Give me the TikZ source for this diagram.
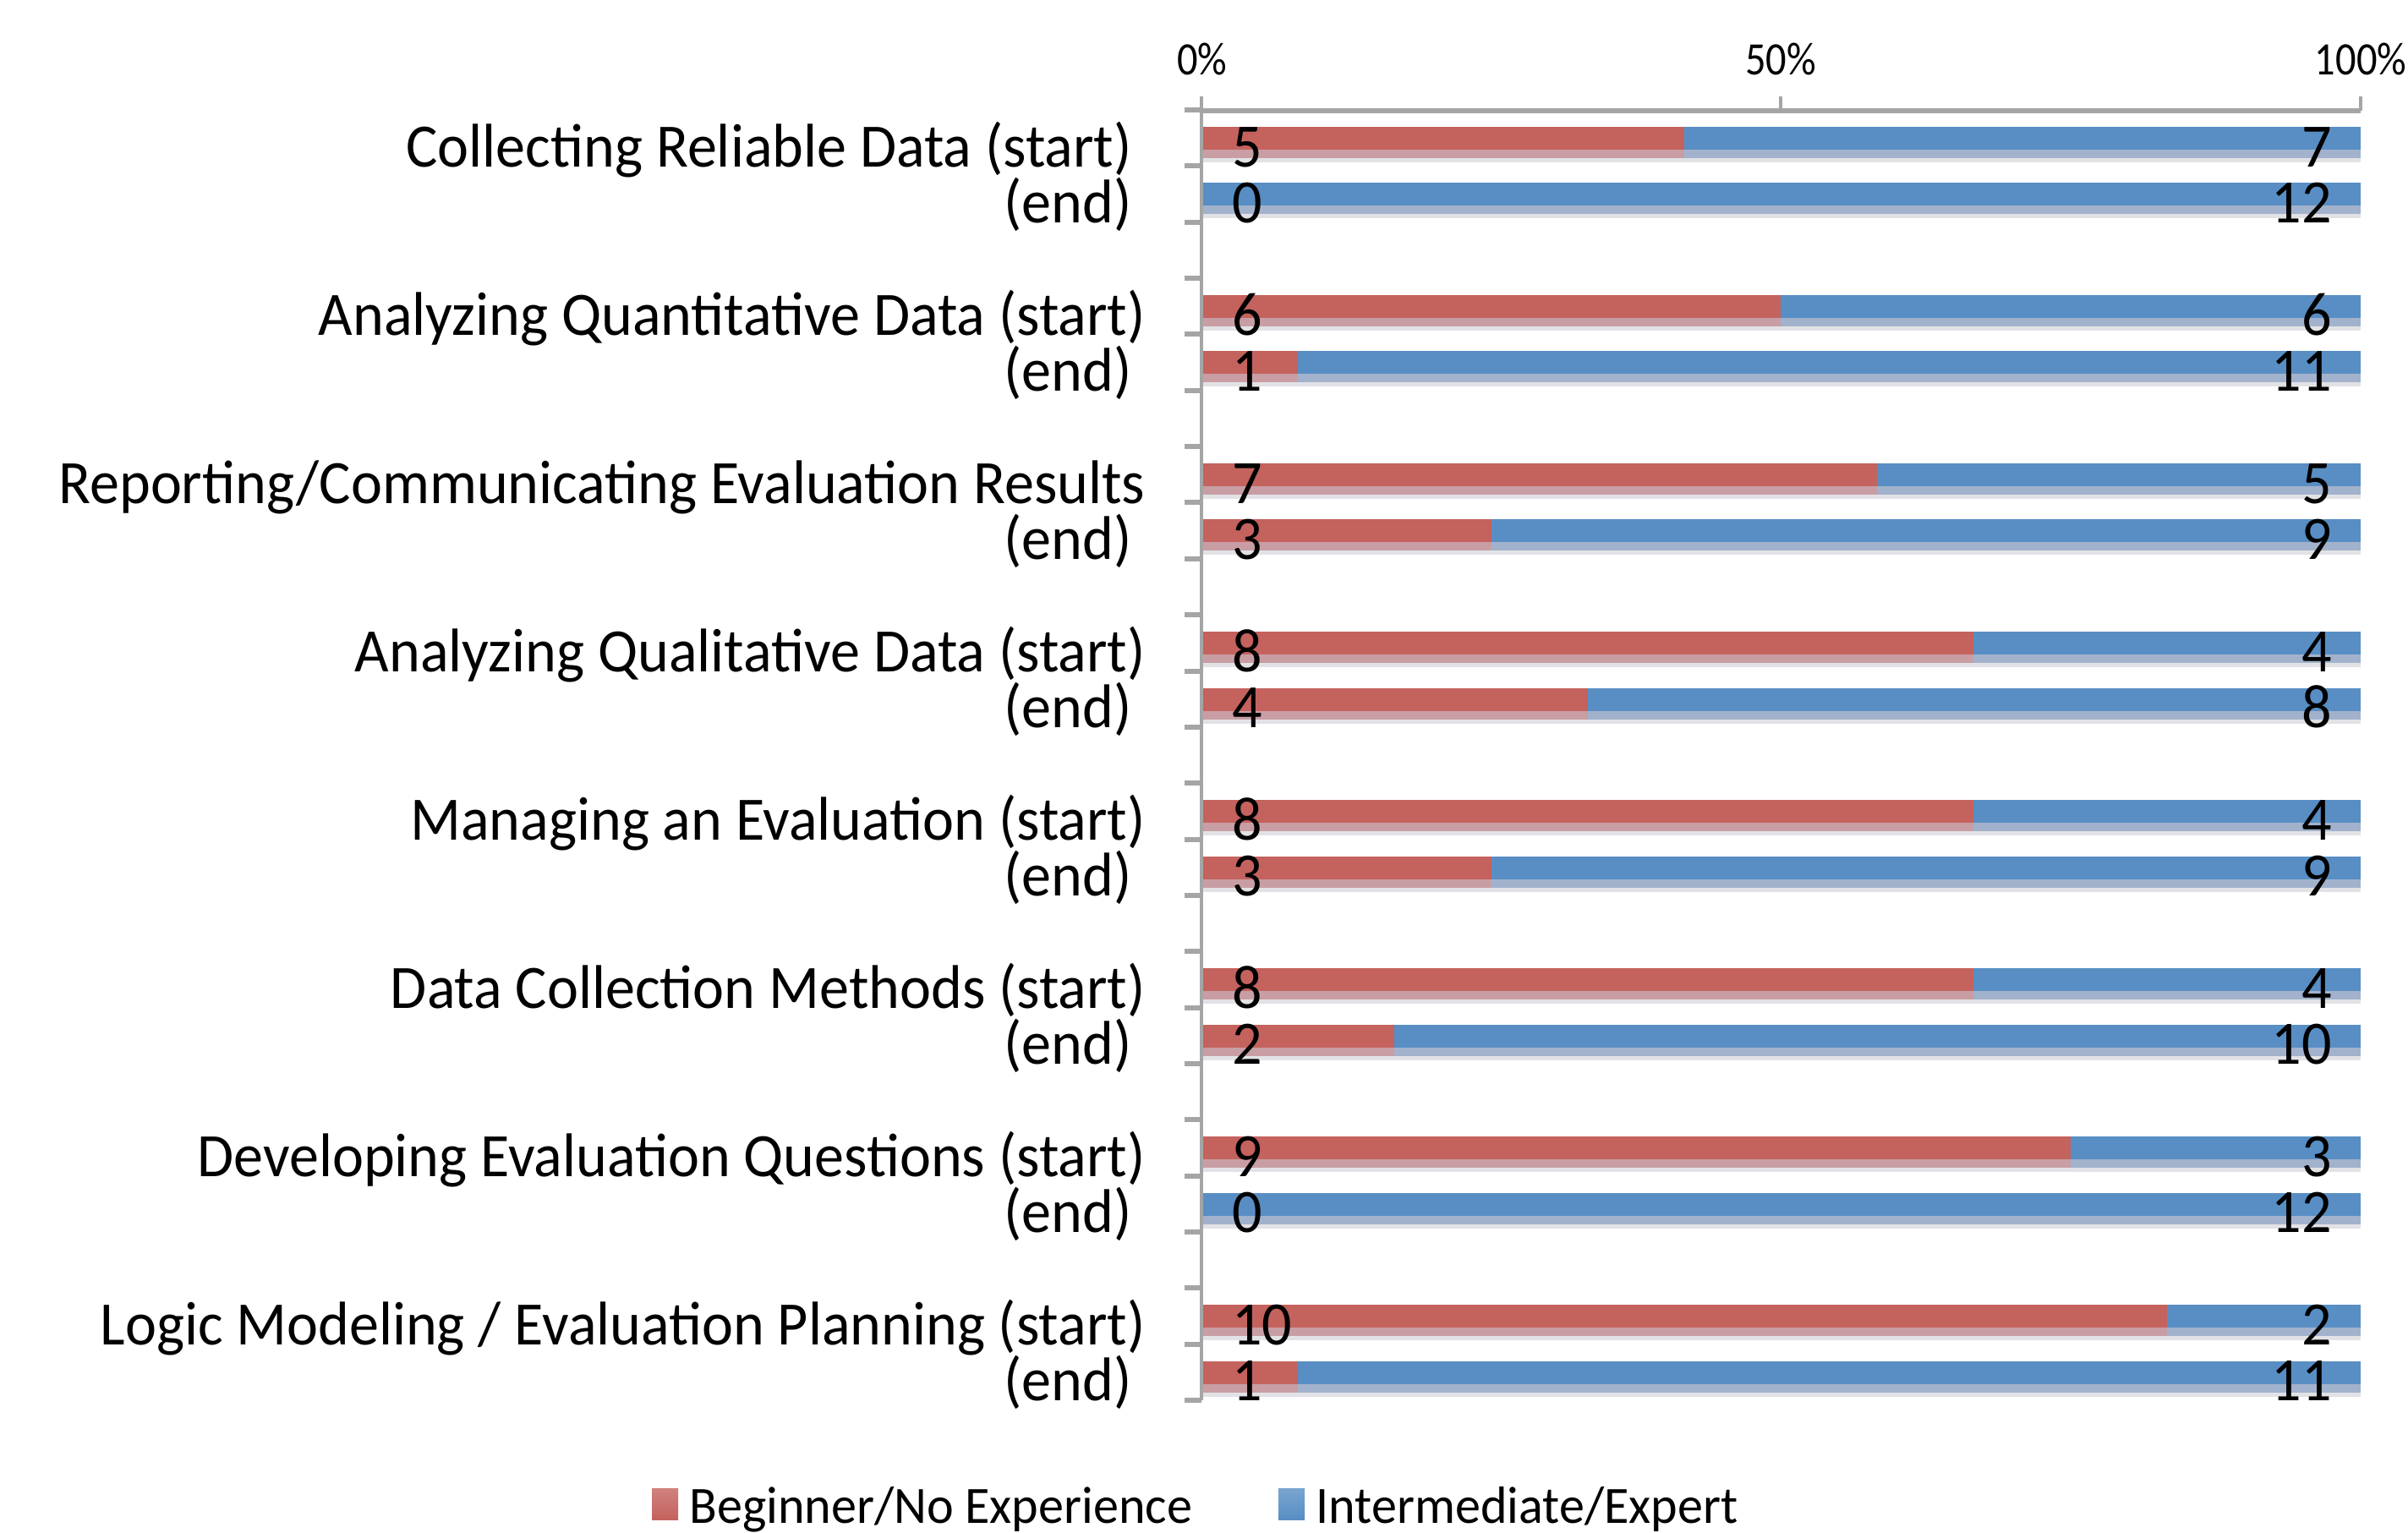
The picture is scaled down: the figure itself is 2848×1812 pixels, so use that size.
\documentclass[tikz,border=0pt]{standalone}
\usepackage{fontspec}
\setmainfont{Carlito}
\newfontfamily\labfont{Carlito}[FakeStretch=0.96]
\newfontfamily\tickfont{Carlito}[FakeStretch=0.88]
\newfontfamily\legfont{Carlito}[FakeStretch=0.97]
\definecolor{begred}{RGB}{196,98,94}
\definecolor{intblue}{RGB}{88,142,196}
\definecolor{redlow}{RGB}{200,158,164}
\definecolor{bluelow}{RGB}{162,178,204}
\definecolor{striplow}{RGB}{226,226,230}
\definecolor{axisgray}{RGB}{165,165,165}
\tikzset{
  catlabel/.style={anchor=base east, inner sep=0pt, font=\labfont\fontsize{36.5}{40}\selectfont},
  vallabel/.style={inner sep=0pt, font=\labfont\fontsize{36.5}{40}\selectfont},
  ticklabel/.style={anchor=base, inner sep=0pt, font=\tickfont\fontsize{27.5}{30}\selectfont},
  leglabel/.style={anchor=base west, inner sep=0pt, font=\legfont\fontsize{31}{34}\selectfont},
  axisline/.style={draw=axisgray, line width=2pt},
  gridline/.style={draw=axisgray, line width=3pt},
}
\begin{document}
\begin{tikzpicture}[x=0.5pt,y=-0.5pt]
\useasboundingbox[fill=white] (0,0) rectangle (2848,1812);
% bars
\foreach \k/\r in {0/5,1/0,3/6,4/1,6/7,7/3,9/8,10/4,12/8,13/3,15/8,16/2,18/9,19/0,21/10,22/1}{
  \pgfmathsetmacro\yt{150+66.35*\k}
  \pgfmathsetmacro\ym{\yt+27}
  \pgfmathsetmacro\yl{\yt+37}
  \pgfmathsetmacro\yb{\yt+42}
  \pgfmathsetmacro\xr{1421+1370*\r/12}
  \pgfmathsetmacro\yc{197+66.35*\k}
  \pgfmathtruncatemacro\bv{12-\r}
  \fill[striplow] (1421,\yl) rectangle (2792,\yb);
  \fill[begred] (1421,\yt) rectangle (\xr,\ym);
  \fill[redlow] (1421,\ym) rectangle (\xr,\yl);
  \fill[intblue] (\xr,\yt) rectangle (2792,\ym);
  \fill[bluelow] (\xr,\ym) rectangle (2792,\yl);
  \node[vallabel, anchor=base west] (s\k) at (1457,\yc) {\r};
  \node[vallabel, anchor=base east] (e\k) at (2758,\yc) {\bv};
}
% axes
\draw[gridline] (1421,131) -- (2792,131);
\foreach \x in {1421,2106,2792}{\draw[axisline] (\x,131) -- (\x,114);}
\draw[axisline] (1421,114) -- (1421,1656);
\foreach \k in {0,...,23}{
  \pgfmathsetmacro\yy{130+66.35*\k}
  \draw[gridline] (1401,\yy) -- (1421,\yy);
}
% tick labels
\node[ticklabel] (t0) at (1422,88) {0\%};
\node[ticklabel] (t50) at (2106,88) {50\%};
\node[ticklabel] (t100) at (2792,88) {100\%};
% category labels
\node[catlabel] (c0) at (1339,197) {Collecting Reliable Data (start)};
\node[catlabel] (c1) at (1339,263.35) {(end)};
\node[catlabel] (c3) at (1355,396.05) {Analyzing Quantitative Data (start)};
\node[catlabel] (c4) at (1339,462.4) {(end)};
\node[catlabel] (c6) at (1355,595.1) {Reporting/Communicating Evaluation Results};
\node[catlabel] (c7) at (1339,661.45) {(end)};
\node[catlabel] (c9) at (1355,794.15) {Analyzing Qualitative Data (start)};
\node[catlabel] (c10) at (1339,860.5) {(end)};
\node[catlabel] (c12) at (1355,993.2) {Managing an Evaluation (start)};
\node[catlabel] (c13) at (1339,1059.55) {(end)};
\node[catlabel] (c15) at (1355,1192.25) {Data Collection Methods (start)};
\node[catlabel] (c16) at (1339,1258.6) {(end)};
\node[catlabel] (c18) at (1355,1391.3) {Developing Evaluation Questions (start)};
\node[catlabel] (c19) at (1339,1457.65) {(end)};
\node[catlabel] (c21) at (1355,1590.35) {Logic Modeling / Evaluation Planning (start)};
\node[catlabel] (c22) at (1339,1656.7) {(end)};
% legend
\fill[top color=begred!80!white, bottom color=begred] (771,1760) rectangle (802,1797);
\node[leglabel] (lbeg) at (815,1801) {Beginner/No Experience};
\fill[top color=intblue!80!white, bottom color=intblue] (1512,1760) rectangle (1543,1797);
\node[leglabel] (lint) at (1556,1801) {Intermediate/Expert};
\end{tikzpicture}
\end{document}
